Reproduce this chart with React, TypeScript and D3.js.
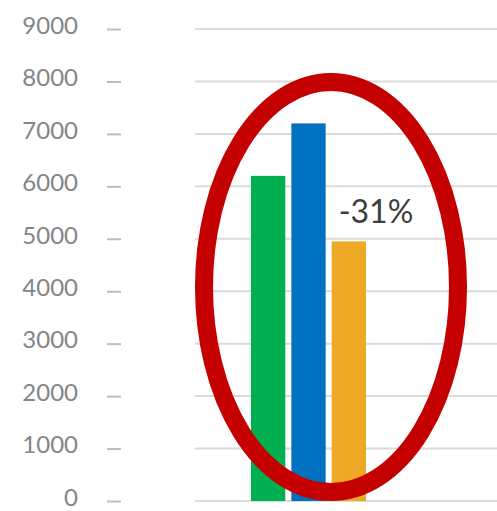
import React from "react";
import * as d3 from "d3";

// bar values
const categories = ["Green", "Blue", "Orange"];
const values = [6200, 7200, 4950];
const barColors = ["#00B050", "#0070C0", "#EDA825"];
const yTicks = [0, 1000, 2000, 3000, 4000, 5000, 6000, 7000, 8000, 9000];

const WIDTH = 497;
const HEIGHT = 511;

const App = () => {
  const svgRef = React.useRef<SVGSVGElement>(null);

  React.useEffect(() => {
    const yScale = d3.scaleLinear().domain([0, 9000]).range([501, 29]);
    const xScale = d3
      .scaleBand()
      .domain(categories)
      .range([251, 366])
      .paddingInner(0.15)
      .paddingOuter(0);

    const svgEl = d3.select(svgRef.current);
    svgEl.selectAll("*").remove();
    const svg = svgEl.append("g");

    // gridlines
    svg
      .append("g")
      .selectAll("line")
      .data(yTicks)
      .enter()
      .append("line")
      .attr("x1", 195)
      .attr("x2", WIDTH)
      .attr("y1", (d) => yScale(d))
      .attr("y2", (d) => yScale(d))
      .attr("stroke", "#dadada")
      .attr("stroke-width", 2);

    // y axis: small dash ticks + big labels
    const yAxis = d3
      .axisLeft(yScale)
      .tickValues(yTicks)
      .tickSize(14)
      .tickPadding(29)
      .tickFormat((d) => String(d));
    const yAxisGroup = svg
      .append("g")
      .attr("transform", "translate(121,0)")
      .call(yAxis);
    yAxisGroup.select(".domain").remove();
    yAxisGroup.selectAll("line").attr("stroke", "#bdbdbd").attr("stroke-width", 2);
    yAxisGroup
      .selectAll("text")
      .attr("fill", "#858585")
      .attr("font-family", "Lato, 'Open Sans', sans-serif")
      .attr("font-size", 24)
      .attr("dy", "0.18em");

    // bars
    svg
      .selectAll(".bar")
      .data(values)
      .enter()
      .append("rect")
      .attr("class", "bar")
      .attr("x", (_, i) => xScale(categories[i]) as number)
      .attr("width", xScale.bandwidth())
      .attr("y", (d) => yScale(d))
      .attr("height", (d) => yScale(0) - yScale(d))
      .attr("fill", (_, i) => barColors[i]);

    // change label between blue and orange
    const change = Math.round(((values[2] - values[1]) / values[1]) * 100);
    svg
      .append("text")
      .attr("x", 376)
      .attr("y", 223)
      .attr("text-anchor", "middle")
      .attr("fill", "#3e3e3e")
      .attr("font-family", "Lato, 'Open Sans', sans-serif")
      .attr("font-size", 32)
      .text(`${change}%`);

    // hand drawn red circle
    svg
      .append("ellipse")
      .attr("cx", 331)
      .attr("cy", 287)
      .attr("rx", 127)
      .attr("ry", 205)
      .attr("fill", "none")
      .attr("stroke", "#C50000")
      .attr("stroke-width", 18);
  }, []);

  return (
    <svg
      ref={svgRef}
      width={WIDTH}
      height={HEIGHT}
      style={{ position: "absolute", left: 0, top: 0, background: "#fff" }}
    />
  );
};

export default App;
